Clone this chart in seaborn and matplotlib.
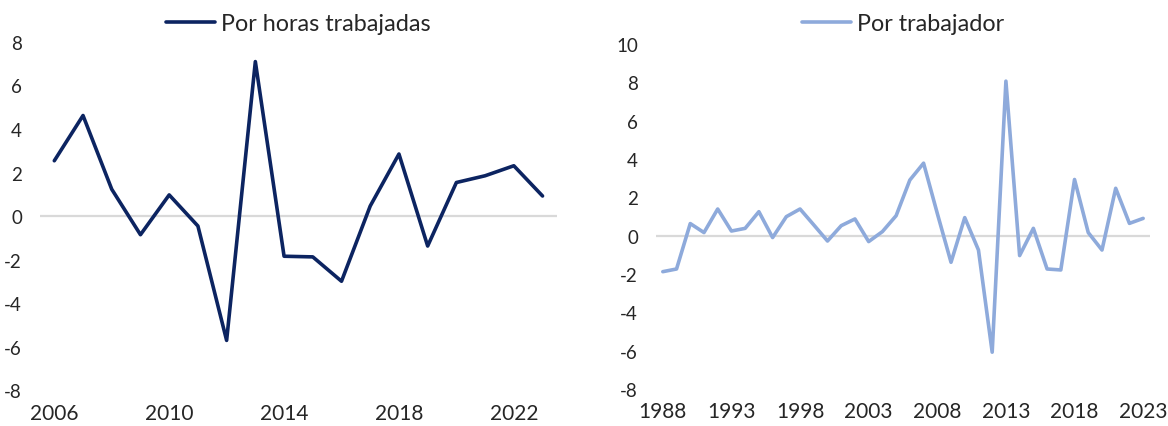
import numpy as np
import pandas as pd
import matplotlib
matplotlib.use("Agg")
import matplotlib.pyplot as plt
import seaborn as sns

# data
years_horas = list(range(2006, 2024))
horas = [2.54, 4.62, 1.23, -0.86, 0.97, -0.46, -5.72, 7.10, -1.85, -1.88,
         -3.00, 0.46, 2.85, -1.38, 1.54, 1.85, 2.31, 0.92]

years_trab = list(range(1988, 2024))
trabajador = [-1.88, -1.74, 0.63, 0.16, 1.39, 0.24, 0.38, 1.25, -0.10, 0.99,
              1.39, 0.56, -0.28, 0.52, 0.87, -0.31, 0.21, 1.04, 2.90, 3.78,
              1.16, -1.39, 0.94, -0.75, -6.08, 8.06, -1.04, 0.38, -1.74, -1.79,
              2.93, 0.16, -0.75, 2.47, 0.64, 0.90]

ticks_horas = [2006, 2010, 2014, 2018, 2022]
ticks_trab = list(range(1988, 2024, 5))

sns.set_theme(style="white")
plt.rcParams['font.family'] = ['Lato', 'DejaVu Sans']

color_horas = "#0c2461"
color_trab = "#8eaadb"
text_color = "#262626"

fig = plt.figure(figsize=(11.68, 4.27), dpi=100)
ax1 = fig.add_axes([0.0342, 0.0843, 0.4426, 0.815])
ax2 = fig.add_axes([0.5616, 0.0867, 0.4230, 0.808])

df1 = pd.DataFrame({"year": years_horas, "value": horas})
df2 = pd.DataFrame({"year": years_trab, "value": trabajador})


def style_axis(ax, xticks, yticks, xlim, ylim, leg_y):
    ax.axhline(0, color="#d9d9d9", lw=1.6, zorder=1)
    ax.set_xlim(*xlim)
    ax.set_ylim(*ylim)
    ax.set_xticks(xticks)
    ax.set_xticklabels([str(t) for t in xticks])
    ax.set_yticks(yticks)
    ax.set_yticklabels([str(t) for t in yticks])
    ax.tick_params(axis="y", length=0, pad=13, labelsize=13.5, labelcolor=text_color)
    ax.tick_params(axis="x", length=0, pad=9, labelsize=15, labelcolor=text_color)
    ax.set_xlabel("")
    ax.set_ylabel("")
    for s in ax.spines.values():
        s.set_visible(False)
    leg = ax.legend(loc="center", bbox_to_anchor=(0.5, leg_y), frameon=False,
                    fontsize=16.8, handlelength=2.1, handletextpad=0.25,
                    borderaxespad=0, borderpad=0)
    for t in leg.get_texts():
        t.set_color(text_color)


sns.lineplot(data=df1, x="year", y="value", ax=ax1, color=color_horas,
             lw=2.6, label="Por horas trabajadas", zorder=3)
style_axis(ax1, ticks_horas, list(range(-8, 9, 2)), (2005.5, 2023.5), (-8, 8), 1.052)

sns.lineplot(data=df2, x="year", y="value", ax=ax2, color=color_trab,
             lw=2.6, label="Por trabajador", zorder=3)
style_axis(ax2, ticks_trab, list(range(-8, 11, 2)), (1987.5, 2023.5), (-8, 10), 1.058)

fig.savefig("out.png", dpi=100)
